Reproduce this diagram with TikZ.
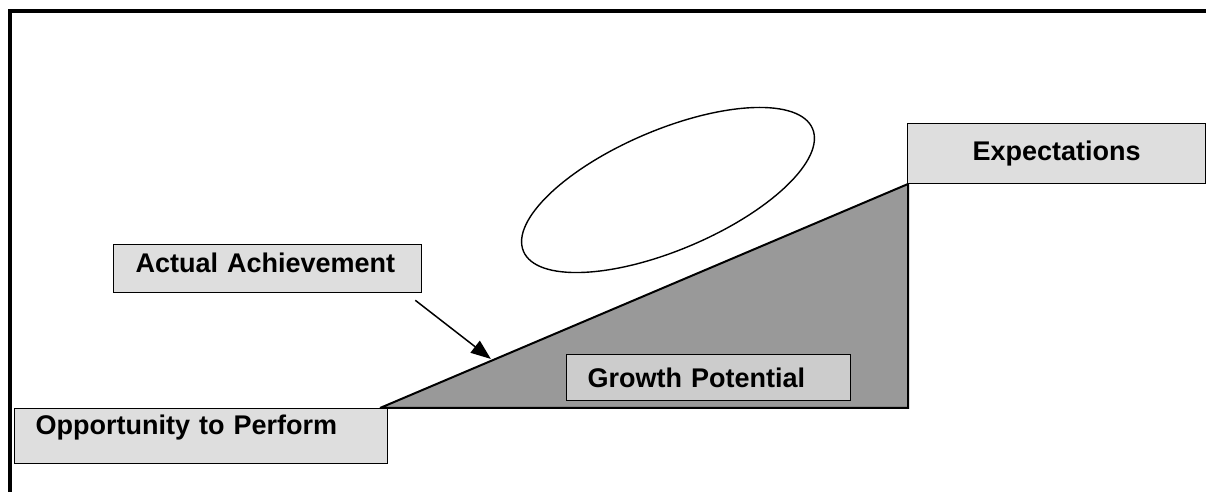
\documentclass[tikz,border=0pt]{standalone}
\usepackage{fontspec}
\setmainfont{Liberation Sans}
\usetikzlibrary{arrows.meta,calc}
\definecolor{boxgray}{HTML}{DEDEDE}
\definecolor{growgray}{HTML}{CCCCCC}
\definecolor{rampgray}{HTML}{999999}
\begin{document}
\begin{tikzpicture}[x=1pt, y=1pt,
    labelbox/.style={draw, fill=boxgray, line width=1.3pt, anchor=north west,
      inner ysep=0pt, align=left, font=\fontsize{27}{32}\selectfont\bfseries}]
    \useasboundingbox (0,0) rectangle (1206,492);
    \draw[line width=4pt] (10,0) -- (10,481) -- (1206,481);

    \coordinate (low) at (380,84);
    \coordinate (high) at (908,308);
    \coordinate (corner) at (908,84);
    \fill[rampgray] (low) -- (high) -- (corner) -- cycle;
    \draw[line width=2pt, line join=miter] (low) -- (high) -- (corner) -- (low);

    \draw[line width=1.4pt] (668,302) ellipse [x radius=157, y radius=60, rotate=23];

    \node (opp) [labelbox, inner xsep=21pt, text width=331pt, text height=26pt, text depth=29pt]
      at (14,84) {Opportunity to Perform};
    \node (act) [labelbox, inner xsep=22pt, text width=264pt, text height=28pt, text depth=20pt]
      at (113,248) {Actual Achievement};
    \node (exp) [labelbox, align=center, inner xsep=4pt, text width=290pt, text height=37pt, text depth=23pt]
      at (907,369) {Expectations};
    \node (grow) [labelbox, fill=growgray, inner xsep=21pt, text width=242pt, text height=33pt, text depth=13pt]
      at (566,138) {Growth Potential};

    \coordinate (hit) at ($(low)!0.21!(high)$);
    \draw[line width=1.5pt, -{Triangle[length=20pt, width=15pt]}]
      ([xshift=-7pt, yshift=-7pt]act.south east) -- ([yshift=2pt]hit);
  \end{tikzpicture}
\end{document}
